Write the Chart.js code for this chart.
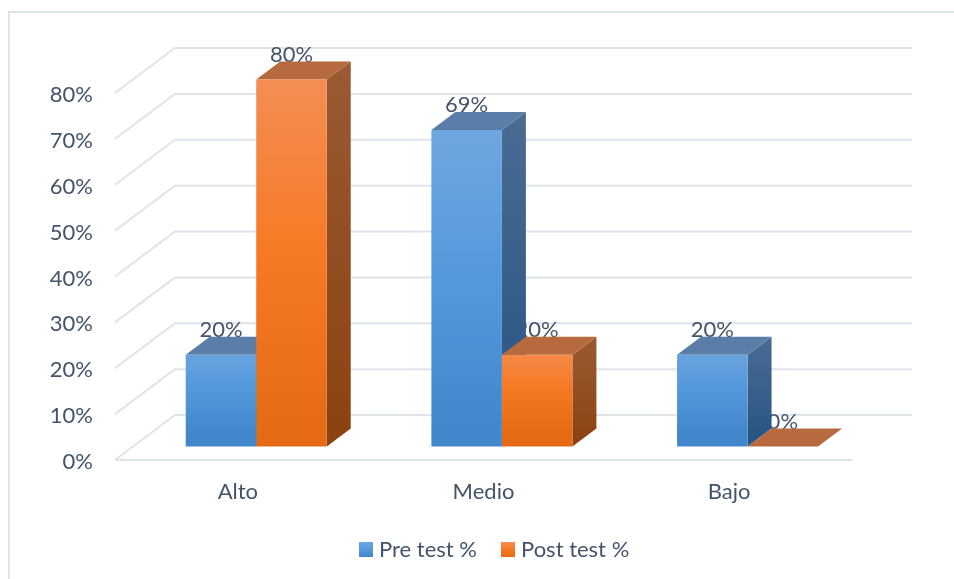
<!DOCTYPE html>
<html>
<head>
<meta charset="utf-8">
<title>Pre test / Post test</title>
<script src="https://cdn.jsdelivr.net/npm/chart.js@4/dist/chart.umd.js"></script>
<style>
    html, body { margin: 0; padding: 0; background: #fff; }
    #wrap { position: relative; width: 954px; height: 579px; }
</style>
</head>
<body>
<div id="wrap"><canvas id="chart"></canvas></div>
<script>
const categories = ['Alto', 'Medio', 'Bajo'];
const preTest = [20, 69, 20];
const postTest = [80, 20, 0];
const seriesNames = ['Pre test %', 'Post test %'];
const yTicks = [0, 10, 20, 30, 40, 50, 60, 70, 80];

const font = 'Lato, Carlito, sans-serif';
const fontSize = 22;
const textColor = '#44546a';
const gridColor = '#dfe3ea';

// depth of the fake 3D box
const wallDx = 60, wallDy = -45;
const barShiftX = 18.4, barShiftY = -13.4;
const barDx = 24, barDy = -18;

const colors = [
    {
        front: ['#72a7e0', '#5499dc', '#4287cb'],
        top: '#5a7ea8',
        side: ['#4a6c93', '#255383'],
    },
    {
        front: ['#f48f58', '#f67a24', '#e66a15'],
        top: '#b66a3e',
        side: ['#9a5a33', '#8b420f'],
    },
];

const frontGradient = (ctx, colorSet, y1, y2) => {
    const g = ctx.createLinearGradient(0, y1, 0, y2);
    g.addColorStop(0, colorSet.front[0]);
    g.addColorStop(0.5, colorSet.front[1]);
    g.addColorStop(1, colorSet.front[2]);
    return g;
};

const barFill = (index) => (context) => {
    const { chart, raw } = context;
    const y = chart.scales.y;
    if (!chart.chartArea || raw === undefined) return colors[index].front[1];
    return frontGradient(
        chart.ctx,
        colors[index],
        y.getPixelForValue(raw) + barShiftY,
        y.getPixelForValue(0) + barShiftY
    );
};

const poly = (ctx, points, fill) => {
    ctx.beginPath();
    points.forEach((p, i) => (i ? ctx.lineTo(p[0], p[1]) : ctx.moveTo(p[0], p[1])));
    ctx.closePath();
    ctx.fillStyle = fill;
    ctx.fill();
};

const drawBarFaces = (chart, datasetIndex) => {
    const { ctx } = chart;
    chart.getDatasetMeta(datasetIndex).data.forEach((bar) => {
        const left = bar.x - bar.width / 2 + barShiftX;
        const right = bar.x + bar.width / 2 + barShiftX;
        const top = bar.y + barShiftY;
        const base = bar.base + barShiftY;
        const set = colors[datasetIndex];

        if (base - top > 0) {
            const g = ctx.createLinearGradient(0, top + barDy, 0, base);
            g.addColorStop(0, set.side[0]);
            g.addColorStop(1, set.side[1]);
            poly(ctx, [
                [right, top],
                [right + barDx, top + barDy],
                [right + barDx, base + barDy],
                [right, base],
            ], g);
        }
        poly(ctx, [
            [left, top],
            [left + barDx, top + barDy],
            [right + barDx, top + barDy],
            [right, top],
        ], set.top);
    });
};

const drawBarLabels = (chart, datasetIndex) => {
    const { ctx } = chart;
    const values = chart.data.datasets[datasetIndex].data;
    ctx.save();
    ctx.font = `${fontSize}px ${font}`;
    ctx.fillStyle = textColor;
    ctx.textAlign = 'center';
    ctx.textBaseline = 'middle';
    chart.getDatasetMeta(datasetIndex).data.forEach((bar, i) => {
        ctx.fillText(`${values[i]}%`, bar.x + barShiftX, bar.y + barShiftY - 25);
    });
    ctx.restore();
};

const drawWalls = (chart) => {
    const { ctx, chartArea, scales } = chart;
    ctx.save();
    ctx.strokeStyle = gridColor;
    ctx.lineWidth = 2;
    yTicks.forEach((tick) => {
        const y = scales.y.getPixelForValue(tick);
        ctx.beginPath();
        ctx.moveTo(chartArea.left, y);
        ctx.lineTo(chartArea.left + wallDx, y + wallDy);
        ctx.lineTo(chartArea.right + wallDx, y + wallDy);
        ctx.stroke();
    });
    const floor = scales.y.getPixelForValue(0);
    ctx.beginPath();
    ctx.moveTo(chartArea.left, floor);
    ctx.lineTo(chartArea.right, floor);
    ctx.stroke();
    ctx.restore();
};

const drawFrame = (chart) => {
    const { ctx } = chart;
    ctx.save();
    ctx.strokeStyle = gridColor;
    ctx.lineWidth = 2;
    ctx.beginPath();
    ctx.moveTo(9, 579);
    ctx.lineTo(9, 12);
    ctx.lineTo(954, 12);
    ctx.stroke();
    ctx.restore();
};

const drawLegend = (chart) => {
    const { ctx } = chart;
    const swatchX = [359, 501];
    ctx.save();
    ctx.font = `${fontSize}px ${font}`;
    ctx.textBaseline = 'middle';
    seriesNames.forEach((name, i) => {
        ctx.fillStyle = frontGradient(ctx, colors[i], 542, 557);
        ctx.fillRect(swatchX[i], 542, 14, 15);
        ctx.fillStyle = textColor;
        ctx.fillText(name, swatchX[i] + 20, 550);
    });
    ctx.restore();
};

const box3d = {
    id: 'box3d',
    beforeDraw: drawFrame,
    beforeDatasetsDraw(chart) {
        drawWalls(chart);
        // the Post labels sit behind the Pre side faces
        drawBarLabels(chart, 1);
        drawBarFaces(chart, 0);
        drawBarFaces(chart, 1);
    },
    beforeDatasetDraw(chart) {
        chart.ctx.save();
        chart.ctx.translate(barShiftX, barShiftY);
    },
    afterDatasetDraw(chart) {
        chart.ctx.restore();
    },
    afterDatasetsDraw(chart) {
        drawBarLabels(chart, 0);
        drawLegend(chart);
    },
};

new Chart(document.getElementById('chart'), {
    type: 'bar',
    data: {
        labels: categories,
        datasets: [
            { label: seriesNames[0], data: preTest, backgroundColor: barFill(0), clip: false },
            { label: seriesNames[1], data: postTest, backgroundColor: barFill(1), clip: false },
        ],
    },
    options: {
        responsive: true,
        maintainAspectRatio: false,
        animation: false,
        layout: { padding: { left: 0, top: 93, right: 102, bottom: 0 } },
        categoryPercentage: 0.574,
        barPercentage: 1,
        plugins: {
            legend: { display: false },
            tooltip: { enabled: false },
        },
        scales: {
            x: {
                grid: { display: false, drawTicks: false },
                border: { display: false },
                ticks: {
                    color: textColor,
                    padding: 19,
                    maxRotation: 0,
                    font: { family: font, size: fontSize },
                },
                afterFit: (scale) => { scale.height = 119; },
            },
            y: {
                min: 0,
                max: 80,
                grid: { display: false, drawTicks: false },
                border: { display: false },
                afterFit: (scale) => { scale.width = 115; },
                ticks: {
                    color: textColor,
                    padding: 22,
                    stepSize: 10,
                    labelOffset: 2,
                    callback: (value) => `${value}%`,
                    font: { family: font, size: fontSize },
                },
            },
        },
    },
    plugins: [box3d],
});
</script>
</body>
</html>
